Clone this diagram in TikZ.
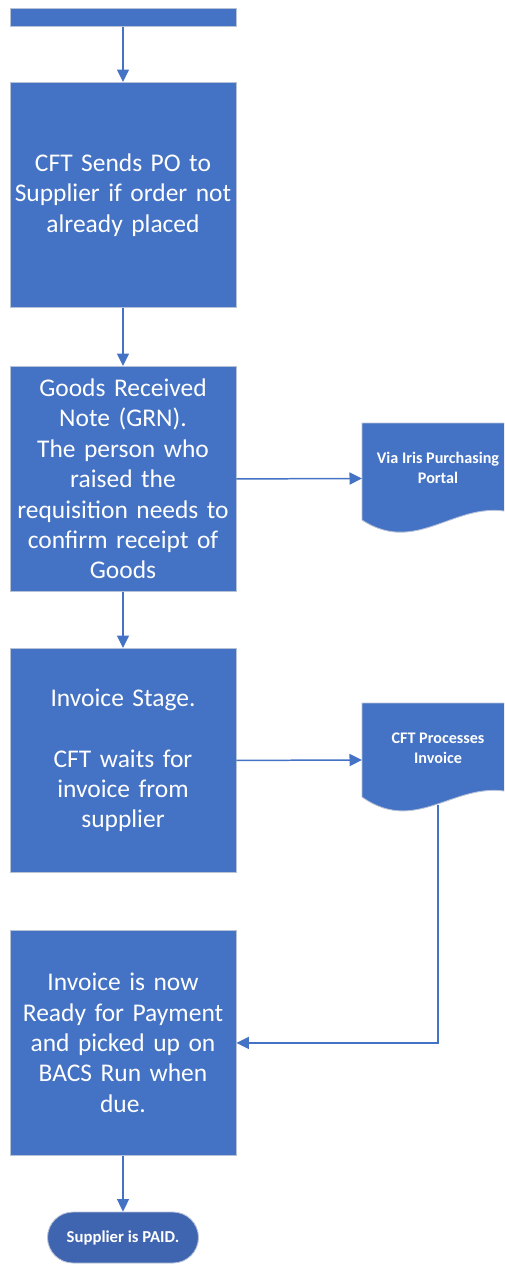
\documentclass[tikz,border=0pt]{standalone}
\usepackage{fontspec}
\setmainfont{Carlito}
\usetikzlibrary{arrows.meta}
\definecolor{officeblue}{HTML}{4472C4}
\definecolor{paidblue}{HTML}{3F64B0}
\definecolor{edgegrey}{HTML}{B8C2D6}
\tikzset{
	procbox/.style={draw=edgegrey, fill=officeblue, line width=0.5pt, inner sep=0pt, minimum width=4.52cm, text width=4.5cm, align=center, text=white, font=\fontsize{14.5}{17.3}\selectfont, anchor=north},
	docshape/.style={draw=edgegrey, fill=officeblue, line width=0.5pt},
	doctext/.style={align=center, text=white, inner sep=0pt, font=\bfseries\fontsize{9.2}{11.3}\selectfont},
	terminal/.style={draw=edgegrey, fill=paidblue, line width=0.5pt, rounded corners=0.51cm, minimum width=3.02cm, minimum height=1.02cm, inner sep=0pt, text=white, font=\bfseries\fontsize{9.5}{10}\selectfont},
	flow/.style={draw=officeblue, line width=0.85pt, -{Triangle[length=0.25cm,width=0.24cm]}}
}

\begin{document}
\begin{tikzpicture}[x=0.02cm,y=-0.02cm]
		\useasboundingbox (0,0) rectangle (504,1265);
		\clip (0,0) rectangle (504,1265);
		% process boxes down the left
		\node[procbox, minimum height=0.36cm] (prev) at (123,8) {};
		\node[procbox, minimum height=4.5cm] (sendpo) at (123,82) {CFT Sends PO to\\Supplier if order not\\already placed};
		\node[procbox, minimum height=4.5cm] (grn) at (123,366) {Goods Received\\Note (GRN).\\The person who\\raised the\\requisition needs to\\confirm receipt of\\Goods};
		\node[procbox, minimum height=4.48cm] (invstage) at (123,648) {Invoice Stage.\\[17.3pt]CFT waits for\\invoice from\\supplier};
		\node[procbox, minimum height=4.5cm] (ready) at (123,930) {Invoice is now\\Ready for Payment\\and picked up on\\BACS Run when\\due.};
		\node[terminal] (paid) at (123,1237.5) {Supplier is PAID.};
		% documents on the right
		\draw[docshape] (362,423) -- (520,423) -- (520,515) .. controls (460,493) and (420,558) .. (362,520) -- cycle;
		\node[doctext] (iris) at (438,468) {Via Iris Purchasing\\Portal};
		\coordinate (iris-w) at (362,478.5);
		\draw[docshape] (362,703) -- (520,703) -- (520,795) .. controls (460,773) and (420,838) .. (362,797) -- cycle;
		\node[doctext] (cftproc) at (438,748) {CFT Processes\\Invoice};
		\coordinate (cftproc-w) at (362,760);
		\coordinate (cftproc-s) at (438,805);
		% connectors
		\draw[flow] (prev) -- (sendpo);
		\draw[flow] (sendpo) -- (grn);
		\draw[flow] (grn) -- (invstage);
		\draw[flow] (ready) -- (paid);
		\draw[flow] (grn.east) -- (iris-w);
		\draw[flow] (invstage.east) -- (cftproc-w);
		\draw[flow] (cftproc-s) |- (ready);
\end{tikzpicture}
\end{document}
